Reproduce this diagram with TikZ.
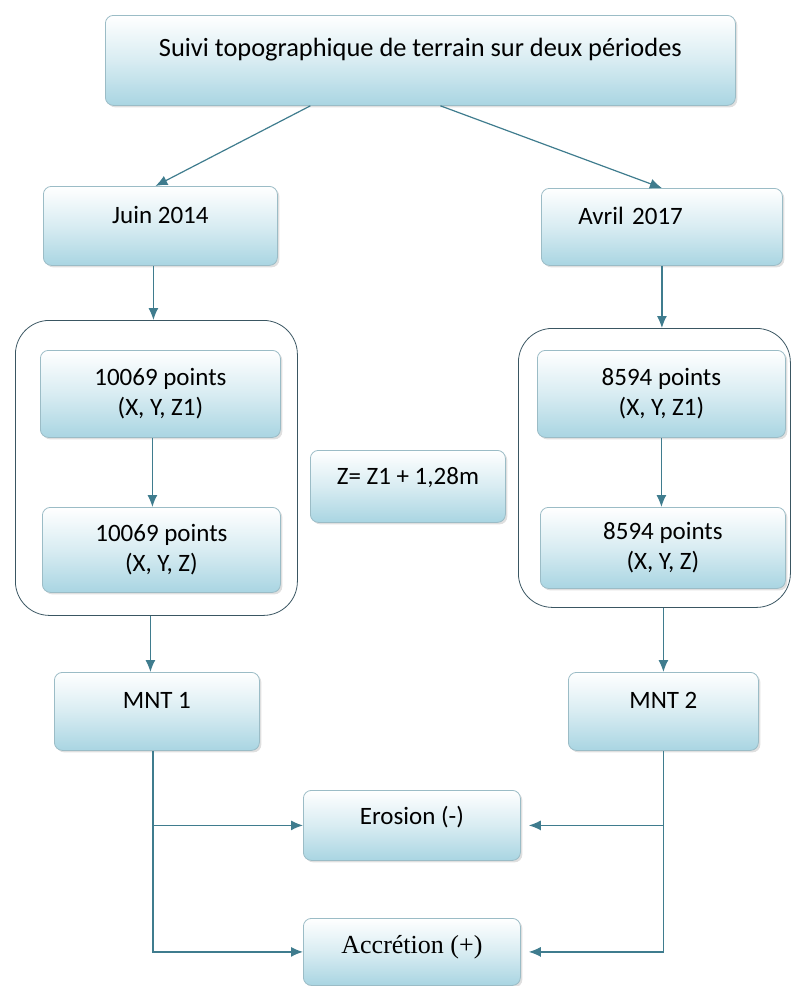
\documentclass[tikz,border=0pt]{standalone}
\usepackage{fontspec}
\setmainfont{Carlito}
\newfontfamily\timesfont{Liberation Serif}
\definecolor{suiviTeal}{HTML}{3F7C8E}
\definecolor{suiviBlue}{HTML}{A9D5E2}
\definecolor{suiviEdge}{HTML}{9BBCC6}
\definecolor{suiviFrame}{HTML}{3A5662}
\usepackage{tikz}
\usetikzlibrary{
	arrows.meta,
	shadows
}

\begin{document}
\begin{tikzpicture}[x=0.5pt,y=-0.5pt,
		bloc/.style={draw=suiviEdge, rounded corners=4pt, top color=white, bottom color=suiviBlue,
			middle color=suiviBlue!45, anchor=north west, inner sep=0pt, align=center,
			font=\fontsize{12.5}{15}\selectfont,
			drop shadow={opacity=0.25, shadow xshift=1pt, shadow yshift=-1pt}},
		seul/.style={text height=8.5pt, text depth=#1},
		cadre/.style={draw=suiviFrame, rounded corners=17pt, anchor=north west, inner sep=0pt},
		flow/.style={draw=suiviTeal, line width=0.6pt, -{Latex[length=6pt,width=5pt]}}]
		\useasboundingbox (0,0) rectangle (793,986);
		% boites
		\node[bloc, seul=12pt, minimum width=315pt, minimum height=45pt, font=\fontsize{13.2}{15}\selectfont] (suivi) at (105,15) {Suivi topographique de terrain sur deux périodes};
		\node[bloc, seul=11pt, minimum width=117pt, minimum height=39.5pt] (juin) at (43,186) {Juin 2014};
		\node[bloc, seul=11pt, minimum width=120.5pt, minimum height=38.5pt, text width=83.5pt, align=left, inner xsep=18.5pt] (avril) at (541,188) {Avril 2017};
		\node[cadre, minimum width=141pt, minimum height=147.5pt] (grpA) at (15,320) {};
		\node[cadre, minimum width=136pt, minimum height=139.5pt] (grpB) at (518,328) {};
		\node[bloc, minimum width=120pt, minimum height=43.5pt] (ptsA1) at (40,350) {10069 points\\(X, Y, Z1)};
		\node[bloc, minimum width=119pt, minimum height=42.5pt] (ptsA2) at (42,507) {10069 points\\(X, Y, Z)};
		\node[bloc, minimum width=124pt, minimum height=43.5pt] (ptsB1) at (537,350) {8594 points\\(X, Y, Z1)};
		\node[bloc, minimum width=122.5pt, minimum height=40.5pt] (ptsB2) at (540,507) {8594 points\\(X, Y, Z)};
		\node[bloc, seul=10pt, minimum width=97.5pt, minimum height=36pt] (zcor) at (310,450) {Z= Z1 + 1,28m};
		\node[bloc, seul=11pt, minimum width=102.5pt, minimum height=39pt] (mnt1) at (54,672) {MNT 1};
		\node[bloc, seul=11pt, minimum width=95pt, minimum height=39pt] (mnt2) at (568,672) {MNT 2};
		\node[bloc, seul=9pt, minimum width=108.5pt, minimum height=35pt] (erosion) at (303,790) {Erosion (-)};
		\node[bloc, seul=7pt, minimum width=108.5pt, minimum height=33.5pt, font=\timesfont\fontsize{13}{15}\selectfont] (accr) at (303,918) {Accrétion (+)};
		% fleches
		\draw[flow] ([xshift=-55pt]suivi.south) -- ([xshift=-2.5pt]juin.north);
		\draw[flow] ([xshift=10pt]suivi.south) -- (avril.north);
		\draw[flow] ([xshift=-3.5pt]juin.south) -- ([xshift=-3.5pt]juin.south |- grpA.north);
		\draw[flow] ([xshift=-4pt]ptsA1.south) -- ([xshift=-4pt]ptsA1.south |- ptsA2.north);
		\draw[flow] ([xshift=-3pt]grpA.south) -- ([xshift=-3pt]grpA.south |- mnt1.north);
		\draw[flow] (avril.south) -- (avril.south |- grpB.north);
		\draw[flow] (ptsB1.south) -- (ptsB1.south |- ptsB2.north);
		\draw[flow] (mnt2.north |- grpB.south) -- (mnt2.north);
		\draw[flow] ([xshift=-2pt]mnt1.south) |- (accr.west);
		\draw[flow] ([xshift=-2pt]mnt1.south |- erosion.west) -- (erosion.west);
		\draw[flow] (mnt2.south) |- ([xshift=4pt]accr.east);
		\draw[flow] (mnt2.south |- erosion.east) -- ([xshift=4pt]erosion.east);
	\end{tikzpicture}
\end{document}
